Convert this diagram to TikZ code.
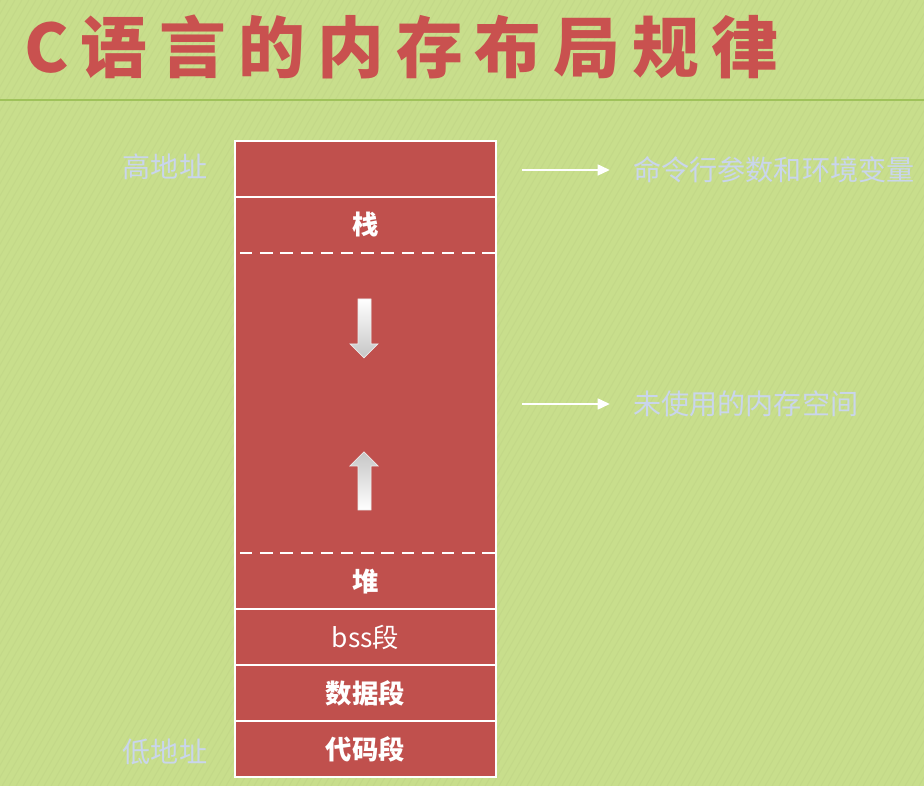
\documentclass[tikz,border=0pt]{standalone}
\usepackage{fontspec}
\newfontfamily\cjk{Noto Sans CJK SC}
\usetikzlibrary{positioning,arrows.meta}
\definecolor{bggreen}{HTML}{C8DE8C}
\definecolor{memred}{HTML}{C0504D}
\definecolor{titlered}{HTML}{C9514F}
\definecolor{labelblue}{HTML}{C9D5EC}
\definecolor{rulegreen}{HTML}{9FC25A}
\tikzset{
  seg/.style={rectangle, fill=memred, draw=memred, line width=0.3pt,
    minimum width=5.22cm, minimum height=1.11cm, inner sep=0pt, text=white,
    font=\cjk\bfseries\fontsize{15}{15}\selectfont},
  addr/.style={text=labelblue, font=\cjk\fontsize{16}{16}\selectfont},
  note/.style={addr, anchor=west, inner sep=0pt},
  pointer/.style={white, line width=1.6pt, -{Triangle[length=7pt,width=6pt]},
    shorten >=0.46cm},
  sep/.style={white, line width=1pt},
}
\begin{document}
\begin{tikzpicture}[x=0.02cm, y=-0.02cm]
  \useasboundingbox (0,0) rectangle (924,786);
  \fill[bggreen] (0,0) rectangle (924,786);
  \begin{scope}
    \clip (0,0) rectangle (924,786);
    \foreach \i in {-460,-453,...,924}
      \draw[bggreen!80!black, opacity=0.12, line width=0.6pt] (\i,786) -- ++(454,-786);
  \end{scope}
  \draw[rulegreen, line width=1.5pt] (0,100) -- (924,100);
  \node[anchor=west, text=titlered, inner sep=0pt,
    font=\cjk\bfseries\fontsize{38}{38}\selectfont\addfontfeature{LetterSpace=18}]
    (title) at (24,47) {C语言的内存布局规律};
  % memory layout
  \node[seg] (args) at (365.5,168.75) {};
  \node[seg, below=0pt of args] (stack) {栈};
  \node[seg, below=0pt of stack, minimum height=6.0cm] (free) {};
  \node[seg, below=0pt of free] (heap) {堆};
  \node[seg, below=0pt of heap, font=\cjk\fontsize{15}{15}\selectfont] (bss) {bss段};
  \node[seg, below=0pt of bss] (data) {数据段};
  \node[seg, below=0pt of data] (code) {代码段};
  \begin{scope}[sep]
    \draw (args.north west) rectangle (code.south east);
    \draw (args.south west) -- (args.south east);
    \draw[dash pattern=on 7pt off 4.5pt] ([xshift=3pt]stack.south west) -- (stack.south east);
    \draw[dash pattern=on 7pt off 4.5pt] ([xshift=3pt]heap.north west) -- (heap.north east);
    \draw (heap.south west) -- (heap.south east);
    \draw (bss.south west) -- (bss.south east);
    \draw (data.south west) -- (data.south east);
  \end{scope}
  % growth arrows
  \shade[top color=white, bottom color=gray!45, draw=white!85!gray, line width=0.4pt]
    (358,299) -- (371,299) -- (371,344) -- (378,344) -- (364,358)
    -- (350,344) -- (358,344) -- cycle;
  \shade[top color=gray!45, bottom color=white, draw=white!85!gray, line width=0.4pt]
    (358,510) -- (371,510) -- (371,466) -- (378,466) -- (364,452)
    -- (350,466) -- (358,466) -- cycle;
  % labels
  \node[addr] (high) at (165,167) {高地址};
  \node[addr] (low) at (165,752) {低地址};
  \node[note] (env) at (633,170) {命令行参数和环境变量};
  \node[note] (unused) at (633,404) {未使用的内存空间};
  \coordinate (p1) at (522,170);
  \coordinate (p2) at (522,404);
  \draw[pointer] (p1) -- (env.west);
  \draw[pointer] (p2) -- (unused.west);
\end{tikzpicture}
\end{document}
